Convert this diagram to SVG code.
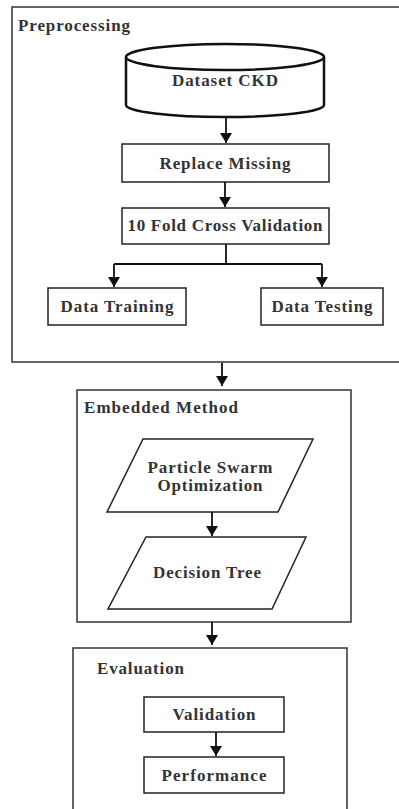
<svg xmlns="http://www.w3.org/2000/svg" width="399" height="809" viewBox="0 0 399 809">
<style>
.box{fill:#fff;stroke:#222;stroke-width:1.5}
.grp{fill:none;stroke:#333;stroke-width:1.5}
.cyl{fill:#fff;stroke:#111;stroke-width:2.5}
.t{font-family:"Liberation Serif",serif;font-weight:bold;font-size:17px;fill:#333}
.c{text-anchor:middle}
.ln{fill:none;stroke:#111;stroke-width:1.8}
</style>
<defs>
<marker id="ah" markerWidth="10" markerHeight="12" refX="10" refY="6" orient="auto" markerUnits="userSpaceOnUse">
<path d="M0,0 L10,6 L0,12 Z" fill="#111"/>
</marker>
</defs>
<rect width="399" height="809" fill="#fff"/>
<g id="preprocessing">
<rect class="grp" x="12" y="7" width="392" height="355"/>
<text class="t" x="18" y="31" textLength="112" lengthAdjust="spacing">Preprocessing</text>
</g>
<g id="dataset">
<path class="cyl" d="M126,57 L126,105 A99,12 0 0 0 324,105 L324,57"/>
<ellipse class="cyl" cx="225" cy="57" rx="99" ry="13"/>
<text class="t c" x="225" y="86" textLength="106" lengthAdjust="spacing">Dataset CKD</text>
</g>
<g id="replace">
<rect class="box" x="122" y="144" width="207" height="38"/>
<text class="t c" x="225" y="169" textLength="131" lengthAdjust="spacing">Replace Missing</text>
</g>
<g id="fold">
<rect class="box" x="122" y="208" width="207" height="36"/>
<text class="t c" x="225" y="231" textLength="195" lengthAdjust="spacing">10 Fold Cross Validation</text>
</g>
<g id="training">
<rect class="box" x="48" y="288" width="138" height="37"/>
<text class="t c" x="117" y="312" textLength="113" lengthAdjust="spacing">Data Training</text>
</g>
<g id="testing">
<rect class="box" x="261" y="288" width="122" height="37"/>
<text class="t c" x="322" y="312" textLength="101" lengthAdjust="spacing">Data Testing</text>
</g>
<g id="embedded">
<rect class="grp" x="77" y="390" width="274" height="232"/>
<text class="t" x="84" y="413" textLength="154" lengthAdjust="spacing">Embedded Method</text>
</g>
<g id="pso">
<polygon class="box" points="143,439 313,439 278,512 107,512"/>
<text class="t c" x="210" y="473" textLength="125" lengthAdjust="spacing">Particle Swarm</text>
<text class="t c" x="210" y="491" textLength="105" lengthAdjust="spacing">Optimization</text>
</g>
<g id="dtree">
<polygon class="box" points="146,537 306,537 272,609 108,609"/>
<text class="t c" x="207" y="578" textLength="108" lengthAdjust="spacing">Decision Tree</text>
</g>
<g id="evaluation">
<rect class="grp" x="73" y="648" width="274" height="170"/>
<text class="t" x="97" y="674" textLength="87" lengthAdjust="spacing">Evaluation</text>
</g>
<g id="validation">
<rect class="box" x="144" y="697" width="140" height="35"/>
<text class="t c" x="214" y="720" textLength="83" lengthAdjust="spacing">Validation</text>
</g>
<g id="performance">
<rect class="box" x="144" y="757" width="140" height="36"/>
<text class="t c" x="214" y="781" textLength="105" lengthAdjust="spacing">Performance</text>
</g>
<g id="connectors">
<line class="ln" x1="226" y1="117" x2="226" y2="143" marker-end="url(#ah)"/>
<line class="ln" x1="225" y1="182" x2="225" y2="207" marker-end="url(#ah)"/>
<polyline class="ln" points="226,244 226,264"/>
<polyline class="ln" points="114,264 322,264"/>
<line class="ln" x1="114" y1="264" x2="114" y2="287" marker-end="url(#ah)"/>
<line class="ln" x1="322" y1="264" x2="322" y2="287" marker-end="url(#ah)"/>
<line class="ln" x1="222" y1="363" x2="222" y2="386" marker-end="url(#ah)"/>
<line class="ln" x1="212" y1="512" x2="212" y2="536" marker-end="url(#ah)"/>
<line class="ln" x1="212" y1="622" x2="212" y2="645" marker-end="url(#ah)"/>
<line class="ln" x1="216" y1="732" x2="216" y2="756" marker-end="url(#ah)"/>
</g>
</svg>
